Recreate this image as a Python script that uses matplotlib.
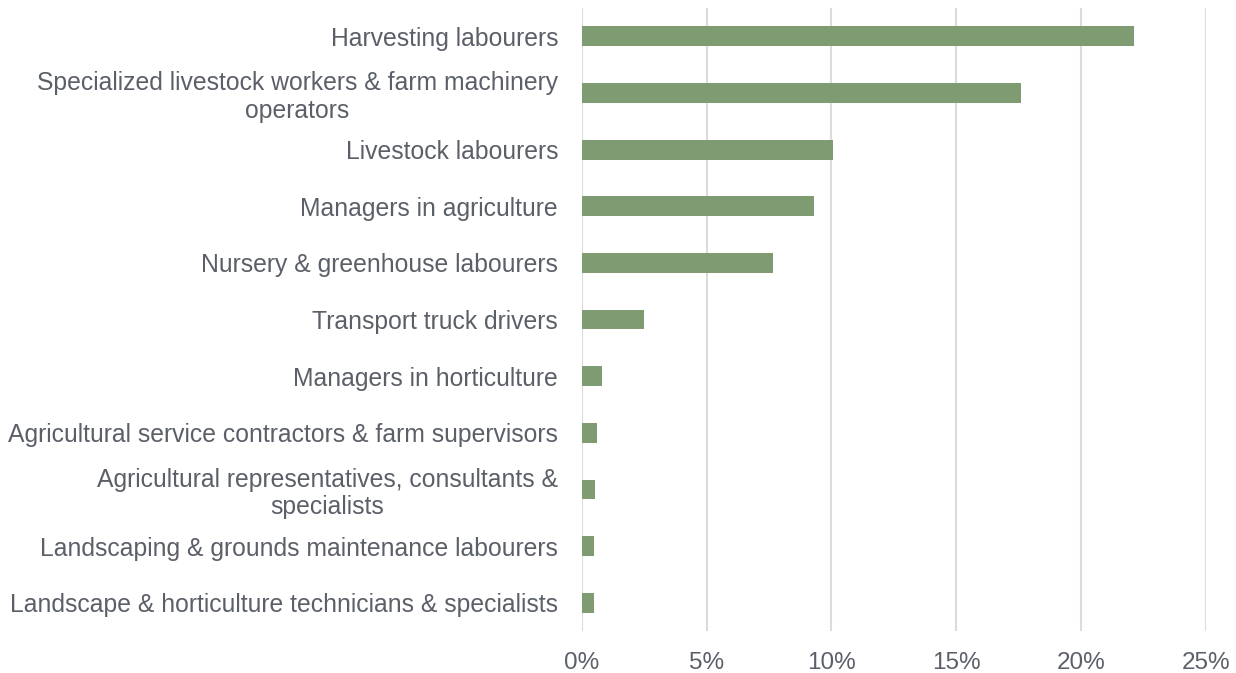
import matplotlib
matplotlib.use("Agg")
import matplotlib.pyplot as plt
from matplotlib.ticker import FuncFormatter

plt.rcParams["font.family"] = ["Liberation Sans", "DejaVu Sans"]

# occupations, top to bottom
occupations = [
    "Harvesting labourers",
    "Specialized livestock workers & farm machinery\noperators",
    "Livestock labourers",
    "Managers in agriculture",
    "Nursery & greenhouse labourers",
    "Transport truck drivers",
    "Managers in horticulture",
    "Agricultural service contractors & farm supervisors",
    "Agricultural representatives, consultants &\nspecialists",
    "Landscaping & grounds maintenance labourers",
    "Landscape & horticulture technicians & specialists",
]
# share of workers (%)
shares = [22.1, 17.6, 10.05, 9.3, 7.65, 2.5, 0.8, 0.6, 0.52, 0.5, 0.5]
xticks = [0, 5, 10, 15, 20, 25]

text_col = "#5b6068"
bar_col = "#7e9b71"
grid_col = "#dcdcdc"

fig = plt.figure(figsize=(12.36, 6.73), dpi=100)
ax = fig.add_axes([0.4706, 0.0624, 0.5052, 0.9257])

ypos = list(range(len(occupations)))
ax.barh(ypos, shares, height=0.35, color=bar_col, zorder=3)

ax.set_ylim(len(occupations) - 0.5, -0.5)
ax.set_xlim(0, 25)
ax.set_xticks(xticks)
ax.xaxis.set_major_formatter(FuncFormatter(lambda v, p: f"{v:.0f}%"))
ax.set_yticks(ypos)
ax.set_yticklabels(occupations, multialignment="center", linespacing=1.17)

ax.grid(axis="x", color=grid_col, linewidth=1.5, zorder=0)
for s in ax.spines.values():
    s.set_visible(False)
ax.tick_params(axis="both", length=0, labelsize=17.8, colors=text_col)
ax.tick_params(axis="y", pad=17)
ax.tick_params(axis="x", labelsize=17.5, pad=15)

fig.savefig("out.png", dpi=100)
